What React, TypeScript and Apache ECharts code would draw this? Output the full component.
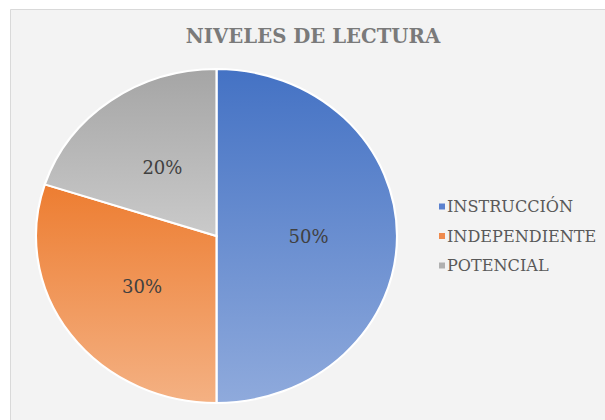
import React, { useEffect, useRef } from "react";
import * as echarts from "echarts";

const TITLE = "NIVELES DE LECTURA";
const CATEGORIES = ["INSTRUCCIÓN", "INDEPENDIENTE", "POTENCIAL"];
const VALUES = [50, 30, 20];

const GRADIENTS: [string, string][] = [
  ["#4472C4", "#8FAADC"],
  ["#ED7D31", "#F4B183"],
  ["#A5A5A5", "#CACACA"],
];
const LEGEND_COLORS = ["#5A80CE", "#EF8A4C", "#B0B0B0"];

const SERIF = "DejaVu Serif";
const CX = 216.5;
const CY = 236;
const RY = 167;
const RX = 180.5;
const SX = RX / RY;
const LABEL_FRAC = 0.51;

export default function App() {
  const ref = useRef<HTMLDivElement>(null);
  useEffect(() => {
    if (!ref.current) return;
    const chart = echarts.init(ref.current, undefined, { renderer: "svg" });
    const total = VALUES.reduce((a, b) => a + b, 0);

    const legendEls: any[] = [];
    CATEGORIES.forEach((name, i) => {
      const y = 206.5 + i * 29.5;
      legendEls.push({
        type: "rect",
        shape: { x: 439, y: y - 3, width: 6, height: 6 },
        style: { fill: LEGEND_COLORS[i] },
        z: 10,
      });
      legendEls.push({
        type: "text",
        x: 447,
        y: y,
        style: {
          text: name,
          fontFamily: SERIF,
          fontSize: 16.1,
          fill: "#595959",
          verticalAlign: "middle",
          align: "left",
        },
        z: 10,
      });
    });

    chart.setOption({
      animation: false,
      backgroundColor: "#ffffff",
      graphic: [
        {
          type: "rect",
          shape: { x: 10.5, y: 9.5, width: 620, height: 430 },
          style: { fill: "#f3f3f3", stroke: "#d9d9d9", lineWidth: 1 },
          silent: true,
          z: -10,
        },
        {
          type: "text",
          x: 313,
          y: 36,
          style: {
            text: TITLE,
            fontFamily: SERIF,
            fontSize: 19.7,
            fontWeight: "bold",
            fill: "#7a7a7a",
            align: "center",
            verticalAlign: "middle",
          },
          z: 10,
        },
        ...legendEls,
      ],
      series: [
        {
          type: "custom",
          coordinateSystem: "none",
          z: 5,
          data: VALUES.map((v, i) => ({ value: v, name: CATEGORIES[i] })),
          renderItem: (params: any, api: any) => {
            const i = params.dataIndex;
            let before = 0;
            for (let j = 0; j < i; j++) before += VALUES[j];
            const v = api.value(0);
            const a0 = -Math.PI / 2 + (before / total) * Math.PI * 2;
            const a1 = a0 + (v / total) * Math.PI * 2;
            const mid = (a0 + a1) / 2;
            const lr = RY * LABEL_FRAC;
            const pct = Math.round((v / total) * 100) + "%";
            return {
              type: "group",
              children: [
                {
                  type: "sector",
                  x: CX,
                  y: CY,
                  scaleX: SX,
                  shape: { cx: 0, cy: 0, r: RY, r0: 0, startAngle: a0, endAngle: a1, clockwise: true },
                  style: {
                    fill: new echarts.graphic.LinearGradient(0, 0, 0, 1, [
                      { offset: 0, color: GRADIENTS[i][0] },
                      { offset: 1, color: GRADIENTS[i][1] },
                    ]),
                    stroke: "#ffffff",
                    lineWidth: 2,
                    strokeNoScale: true,
                  },
                },
                {
                  type: "text",
                  x: CX + Math.cos(mid) * lr * SX,
                  y: CY + Math.sin(mid) * lr,
                  style: {
                    text: pct,
                    fontFamily: SERIF,
                    fontSize: 18,
                    fill: "#404040",
                    align: "center",
                    verticalAlign: "middle",
                  },
                  z2: 10,
                },
              ],
            };
          },
        },
      ],
    });
    return () => chart.dispose();
  }, []);
  return (
    <div
      ref={ref}
      style={{ position: "fixed", left: 0, top: 0, width: 605, height: 420 }}
    />
  );
}
